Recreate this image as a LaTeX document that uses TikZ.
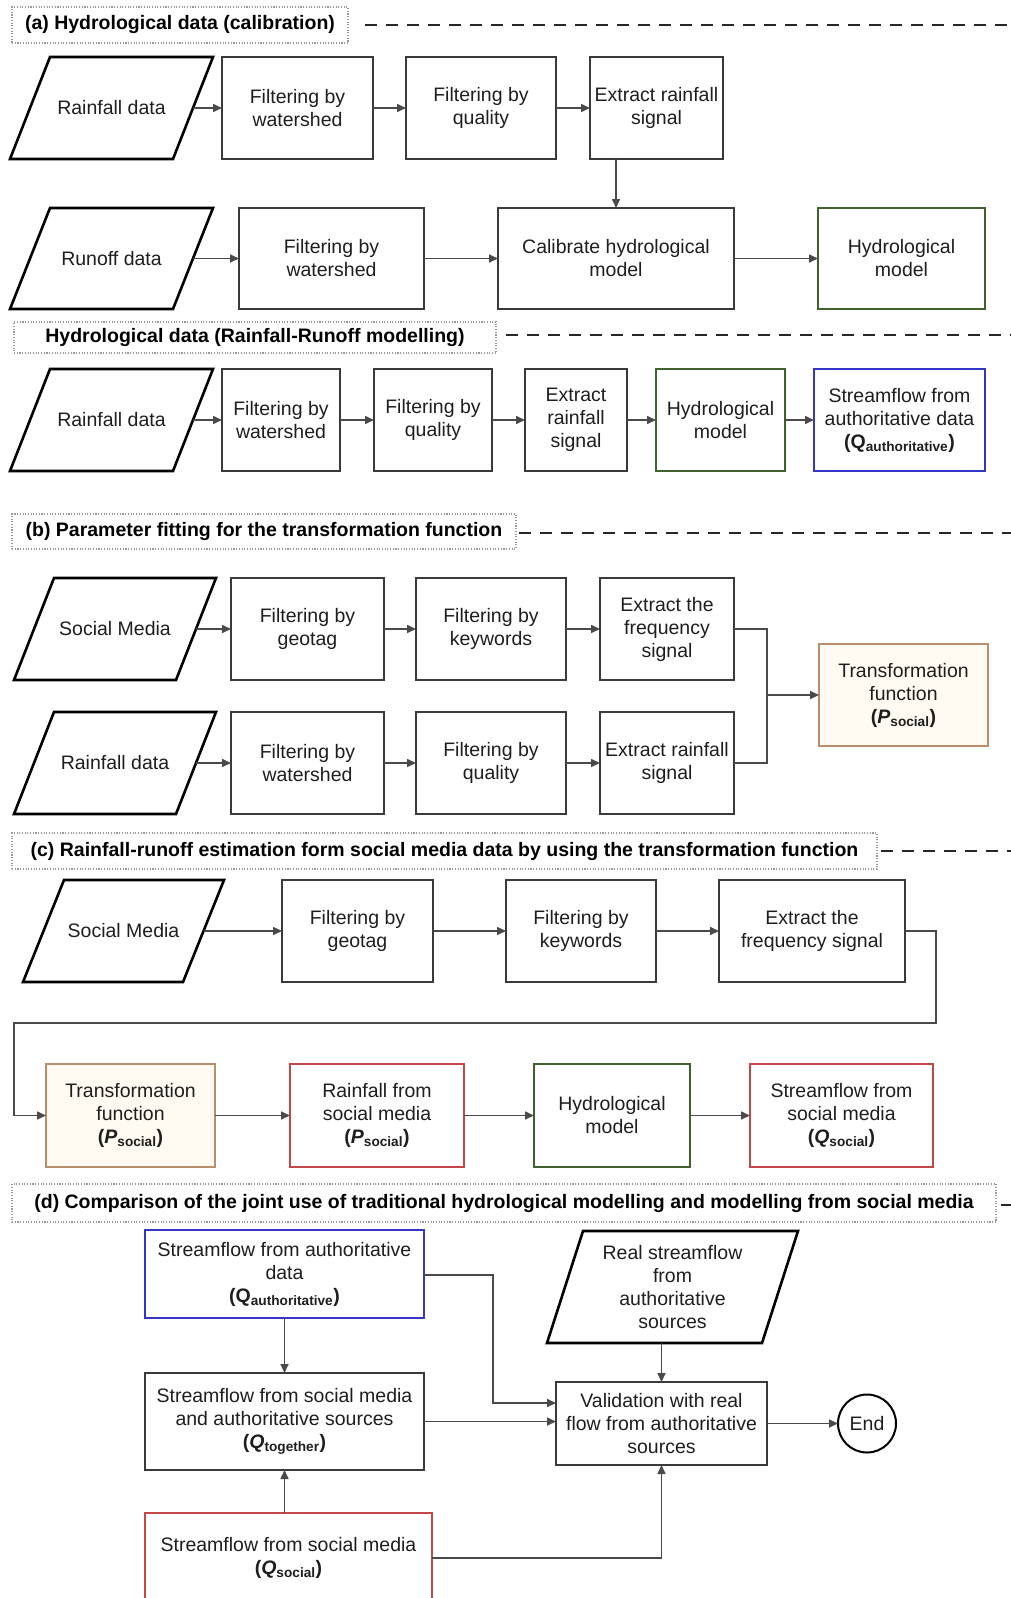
\documentclass[tikz,border=0pt]{standalone}
\usepackage{fontspec}
\setmainfont{Liberation Sans}
\usetikzlibrary{arrows.meta}
\definecolor{edgegray}{HTML}{3A3A3A}
\definecolor{linegray}{HTML}{4A4A4A}
\definecolor{hmgreen}{HTML}{40602C}
\definecolor{qblue}{HTML}{3535C8}
\definecolor{qred}{HTML}{C44848}
\definecolor{tforange}{HTML}{B88E6C}
\definecolor{tffill}{HTML}{FFFBF3}
\definecolor{txt}{HTML}{1E1E1E}
\tikzset{
  procbox/.style={draw=edgegray, line width=1.8pt, rectangle, align=center,
    inner sep=1pt, outer sep=0pt, text=txt},
  greenbox/.style={procbox, draw=hmgreen},
  bluebox/.style={procbox, draw=qblue},
  redbox/.style={procbox, draw=qred},
  orangebox/.style={procbox, draw=tforange, fill=tffill},
  datanode/.style={rectangle, align=center, inner sep=1pt, outer sep=0pt, text=txt},
  dataline/.style={draw=black, line width=2.6pt},
  hdr/.style={draw=gray!80, line width=1.1pt, dash pattern=on 1.1pt off 1.6pt,
    font=\fontsize{19.5}{23}\selectfont\bfseries, inner sep=0pt, text=black},
  sepline/.style={draw=black!85, line width=2.8pt, dash pattern=on 12pt off 9pt},
  arr/.style={draw=linegray, line width=1.6pt, -{Triangle[length=9pt,width=8pt]}},
  link/.style={draw=linegray, line width=1.6pt},
  endnode/.style={circle, draw=black, line width=2pt, minimum size=58pt,
    inner sep=0pt, outer sep=0pt, text=txt}
}
% parallelogram outline around a data node: #1 node name, #2 horizontal slant
\newcommand{\datashape}[2]{%
  \draw[dataline] (#1.south west) -- ([xshift=#2pt]#1.north west) -- (#1.north east)
    -- ([xshift=-#2pt]#1.south east) -- cycle;}
\newcommand{\Qauth}{\textbf{(Q\textsubscript{authoritative})}}
\newcommand{\Psoc}{\textbf{(\textit{P}\textsubscript{social})}}
\newcommand{\Qsoc}{\textbf{(\textit{Q}\textsubscript{social})}}
\newcommand{\Qtog}{\textbf{(\textit{Q}\textsubscript{together})}}
\begin{document}
\begin{tikzpicture}[x=1pt, y=-1pt, font=\fontsize{19.5}{23}\selectfont]
\useasboundingbox (0,0) rectangle (1011,1598);
\fill[white] (0,0) rectangle (1011,1598);

% ---------------- (a) calibration ----------------
\node[hdr, minimum width=336, minimum height=36] (ha) at (180,25) {(a) Hydrological data (calibration)};
\draw[sepline] (365,25) -- (1011,25);

\node[datanode, minimum width=203, minimum height=102] (a_r) at (111.5,108) {Rainfall data};
\datashape{a_r}{40}
\node[procbox, minimum width=151, minimum height=102] (a_f1) at (297.5,108) {Filtering by\\watershed};
\node[procbox, minimum width=150, minimum height=102] (a_f2) at (481,108) {Filtering by\\quality};
\node[procbox, minimum width=133, minimum height=102] (a_ex) at (656.5,108) {Extract rainfall\\signal};

\node[datanode, minimum width=203, minimum height=101] (a_ro) at (111.5,258.5) {Runoff data};
\datashape{a_ro}{40}
\node[procbox, minimum width=185, minimum height=101] (a_f3) at (331.5,258.5) {Filtering by\\watershed};
\node[procbox, minimum width=236, minimum height=101] (a_cal) at (616,258.5) {Calibrate hydrological\\model};
\node[greenbox, minimum width=167, minimum height=101] (a_hm) at (901.5,258.5) {Hydrological\\model};

\draw[arr] ([xshift=-20pt]a_r.east) -- (a_f1);
\draw[arr] (a_f1) -- (a_f2);
\draw[arr] (a_f2) -- (a_ex);
\draw[arr] (a_cal.north |- a_ex.south) -- (a_cal.north);
\draw[arr] ([xshift=-20pt]a_ro.east) -- (a_f3);
\draw[arr] (a_f3) -- (a_cal);
\draw[arr] (a_cal) -- (a_hm);

% ---------------- rainfall-runoff modelling ----------------
\node[hdr, minimum width=482, minimum height=31] (hm) at (255,337.5) {Hydrological data (Rainfall-Runoff modelling)};
\draw[sepline] (506,335) -- (1011,335);

\node[datanode, minimum width=203, minimum height=102] (m_r) at (111.5,420) {Rainfall data};
\datashape{m_r}{40}
\node[procbox, minimum width=118, minimum height=102] (m_f1) at (281,420) {Filtering by\\watershed};
\node[procbox, minimum width=118, minimum height=102] (m_f2) at (433,420) {Filtering by\\quality};
\node[procbox, minimum width=102, minimum height=102] (m_ex) at (576,420) {Extract\\rainfall\\signal};
\node[greenbox, minimum width=129, minimum height=102] (m_hm) at (720.5,420) {Hydrological\\model};
\node[bluebox, minimum width=171, minimum height=102] (m_q) at (899.5,420) {Streamflow from\\authoritative data\\\Qauth};

\draw[arr] ([xshift=-20pt]m_r.east) -- (m_f1);
\draw[arr] (m_f1) -- (m_f2);
\draw[arr] (m_f2) -- (m_ex);
\draw[arr] (m_ex) -- (m_hm);
\draw[arr] (m_hm) -- (m_q);

% ---------------- (b) parameter fitting ----------------
\node[hdr, minimum width=504, minimum height=35] (hb) at (264,531.5) {(b) Parameter fitting for the transformation function};
\draw[sepline] (519,533) -- (1011,533);

\node[datanode, minimum width=202, minimum height=102] (b_sm) at (115,629) {Social Media};
\datashape{b_sm}{40}
\node[procbox, minimum width=153, minimum height=102] (b_f1) at (307.5,629) {Filtering by\\geotag};
\node[procbox, minimum width=150, minimum height=102] (b_f2) at (491,629) {Filtering by\\keywords};
\node[procbox, minimum width=134, minimum height=102] (b_ex) at (667,629) {Extract the\\frequency\\signal};

\node[datanode, minimum width=202, minimum height=102] (b_r) at (115,763) {Rainfall data};
\datashape{b_r}{40}
\node[procbox, minimum width=153, minimum height=102] (b_f3) at (307.5,763) {Filtering by\\watershed};
\node[procbox, minimum width=150, minimum height=102] (b_f4) at (491,763) {Filtering by\\quality};
\node[procbox, minimum width=134, minimum height=102] (b_ex2) at (667,763) {Extract rainfall\\signal};

\node[orangebox, minimum width=169, minimum height=102] (b_tf) at (903.5,695) {Transformation\\function\\\Psoc};
\coordinate (bj) at (767,695);

\draw[arr] ([xshift=-20pt]b_sm.east) -- (b_f1);
\draw[arr] (b_f1) -- (b_f2);
\draw[arr] (b_f2) -- (b_ex);
\draw[arr] ([xshift=-20pt]b_r.east) -- (b_f3);
\draw[arr] (b_f3) -- (b_f4);
\draw[arr] (b_f4) -- (b_ex2);
\draw[link] (b_ex.east) -| (bj);
\draw[link] (b_ex2.east) -| (bj);
\draw[arr] (bj) -- (b_tf);

% ---------------- (c) estimation from social media ----------------
\node[hdr, minimum width=865, minimum height=36] (hc) at (444.5,851) {(c) Rainfall-runoff estimation form social media data by using the transformation function};
\draw[sepline] (881,851) -- (1011,851);

\node[datanode, minimum width=201, minimum height=102] (c_sm) at (123.5,931) {Social Media};
\datashape{c_sm}{41}
\node[procbox, minimum width=151, minimum height=102] (c_f1) at (357.5,931) {Filtering by\\geotag};
\node[procbox, minimum width=150, minimum height=102] (c_f2) at (581,931) {Filtering by\\keywords};
\node[procbox, minimum width=186, minimum height=102] (c_ex) at (812,931) {Extract the\\frequency signal};

\node[orangebox, minimum width=169, minimum height=103] (c_tf) at (130.5,1115.5) {Transformation\\function\\\Psoc};
\node[redbox, minimum width=174, minimum height=103] (c_rf) at (377,1115.5) {Rainfall from\\social media\\\Psoc};
\node[greenbox, minimum width=156, minimum height=103] (c_hm) at (612,1115.5) {Hydrological\\model};
\node[redbox, minimum width=183, minimum height=103] (c_sf) at (841.5,1115.5) {Streamflow from\\social media\\\Qsoc};

\coordinate (c_t1) at (936,931);
\coordinate (c_t2) at (936,1023);
\coordinate (c_t3) at (14,1023);
\coordinate (c_t4) at (14,1115.5);

\draw[arr] ([xshift=-20.5pt]c_sm.east) -- (c_f1);
\draw[arr] (c_f1) -- (c_f2);
\draw[arr] (c_f2) -- (c_ex);
\draw[arr] (c_ex.east) -- (c_t1) -- (c_t2) -- (c_t3) -- (c_t4) -- (c_tf.west);
\draw[arr] (c_tf) -- (c_rf);
\draw[arr] (c_rf) -- (c_hm);
\draw[arr] (c_hm) -- (c_sf);

% ---------------- (d) comparison ----------------
\node[hdr, minimum width=984, minimum height=38] (hd) at (504,1203) {(d) Comparison of the joint use of traditional hydrological modelling and modelling from social media};
\draw[sepline] (1001,1205) -- (1011,1205);

\node[bluebox, minimum width=279, minimum height=88] (d_qa) at (284.5,1274) {Streamflow from authoritative\\data\\\Qauth};
\node[datanode, minimum width=251, minimum height=112] (d_real) at (672.5,1287) {Real streamflow\\from\\authoritative\\sources};
\datashape{d_real}{36}
\node[procbox, minimum width=279, minimum height=97] (d_qt) at (284.5,1421.5) {Streamflow from social media\\and authoritative sources\\\Qtog};
\node[procbox, minimum width=211, minimum height=83] (d_val) at (661.5,1423.5) {Validation with real\\flow from authoritative\\sources};
\node[endnode] (d_end) at (867,1423.5) {End};
\node[redbox, minimum width=287, minimum height=90] (d_qs) at (288.5,1558) {Streamflow from social media\\\Qsoc};

\coordinate (d_k1) at (493,1275);
\coordinate (d_k2) at (493,1403);
\coordinate (d_k3) at (661.5,1558);

\draw[arr] (d_qa.east |- d_k1) -- (d_k1) -- (d_k2) -- (d_val.west |- d_k2);
\draw[arr] (d_qa) -- (d_qt);
\draw[arr] (d_qt.east) -- (d_val.west |- d_qt.east);
\draw[arr] (d_val.north |- d_real.south) -- (d_val.north);
\draw[arr] (d_qt.south |- d_qs.north) -- (d_qt.south);
\draw[arr] (d_qs.east |- d_k3) -- (d_k3) -- (d_val.south);
\draw[arr] (d_val) -- (d_end);
\end{tikzpicture}
\end{document}
